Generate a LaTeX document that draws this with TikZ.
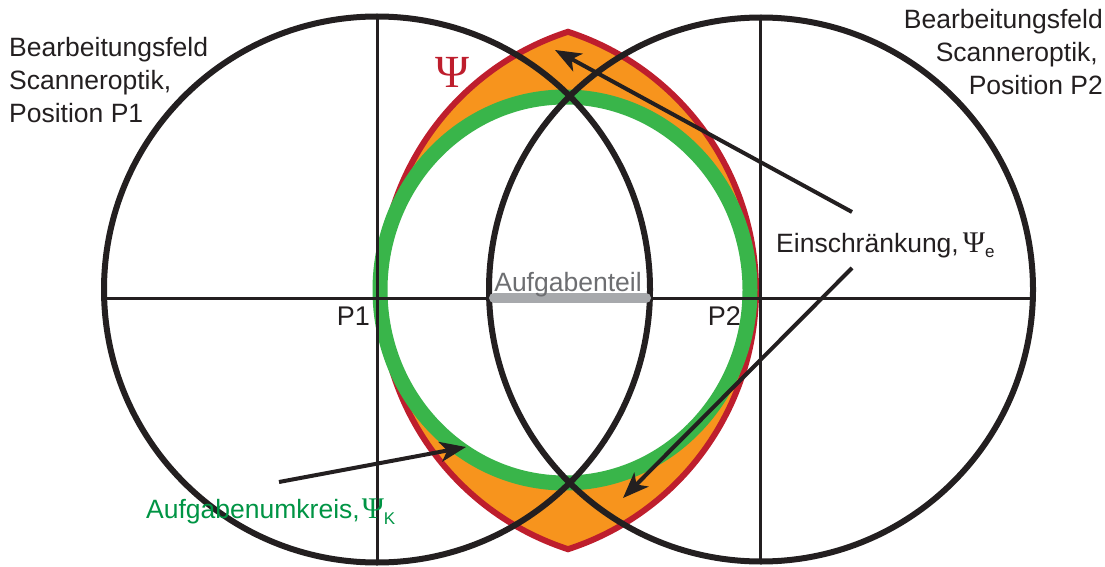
\documentclass[tikz,border=0pt]{standalone}
\usepackage{fontspec}
\setmainfont{Liberation Sans}
\newfontfamily\psifont{Liberation Serif}
\usetikzlibrary{arrows.meta}
\definecolor{cblack}{RGB}{35,31,32}
\definecolor{cred}{RGB}{190,30,45}
\definecolor{corange}{RGB}{247,148,29}
\definecolor{cgreen}{RGB}{57,181,74}
\definecolor{cgreentext}{RGB}{0,148,68}
\definecolor{cbar}{RGB}{167,169,172}
\definecolor{cgraytext}{RGB}{109,110,113}
\begin{document}
\begin{tikzpicture}[x=1pt,y=-1pt,
  bigcircle/.style={draw=cblack, line width=6pt},
  axisline/.style={draw=cblack, line width=3pt},
  pointer/.style={draw=cblack, line width=4pt, -{Stealth[length=26pt,width=20pt,inset=7pt]}},
  lbl/.style={inner sep=0pt, font=\fontsize{26.5}{33}\selectfont, text=cblack}]
\useasboundingbox (0,0) rectangle (1105,567);

% lens Psi
\path[fill=corange, draw=cred, line width=6pt, line join=miter]
  (568,31.8) arc[start angle=252,end angle=108,radius=272]
  arc[start angle=72,end angle=-72,radius=272] -- cycle;

% task circumcircle
\draw[draw=cgreen, fill=white, line width=15pt] (565,290) ellipse[x radius=185, y radius=193];

% axes
\draw[axisline] (104,298) -- (1033,298);
\draw[axisline] (377,17) -- (377,562);
\draw[axisline] (760,17) -- (760,562);

% scanner fields
\draw[bigcircle] (377,289.5) circle[radius=273];
\draw[bigcircle] (761,289.5) circle[radius=272];

% task part
\draw[draw=cbar, line width=10pt, line cap=round] (494,298) -- (646,298);
\node[lbl, anchor=base, text=cgraytext] (teil) at (568,291) {Aufgabenteil};

% labels
\node[lbl, anchor=base west] (feld1) at (9,57)
  {\begin{tabular}[t]{@{}l@{}}Bearbeitungsfeld\\Scanneroptik,\\Position P1\end{tabular}};
\node[lbl, anchor=base east] (feld2) at (1103,29)
  {\begin{tabular}[t]{@{}r@{}}Bearbeitungsfeld\\Scanneroptik,\hspace*{5pt}\\Position P2\end{tabular}};
\node[lbl, anchor=base east, font=\fontsize{27}{27}\selectfont] (p1) at (370,325) {P1};
\node[lbl, anchor=base east, font=\fontsize{27}{27}\selectfont] (p2) at (741,325) {P2};
\node[inner sep=0pt, anchor=base, text=cred, font=\psifont\fontsize{46}{46}\selectfont] (psi) at (452,88) {Ψ};
\node[lbl, anchor=base west] (einsch) at (776,252)
  {Einschränkung,\hspace{4pt}{\psifont\fontsize{30}{30}\selectfont Ψ}\raisebox{-5pt}{\fontsize{17}{17}\selectfont e}};
\node[lbl, anchor=base west, text=cgreentext] (umkreis) at (146,518)
  {Aufgabenumkreis,\hspace{2pt}{\psifont\fontsize{30}{30}\selectfont Ψ}\raisebox{-6pt}{\fontsize{17}{17}\selectfont K}};

% pointers
\coordinate (e1) at (852,212);
\coordinate (t1) at (555,50);
\coordinate (e2) at (852,268);
\coordinate (t2) at (623,498);
\coordinate (k1) at (279,482);
\coordinate (t3) at (466,447);
\draw[pointer] (e1) -- (t1);
\draw[pointer] (e2) -- (t2);
\draw[pointer] (k1) -- (t3);
\end{tikzpicture}
\end{document}
